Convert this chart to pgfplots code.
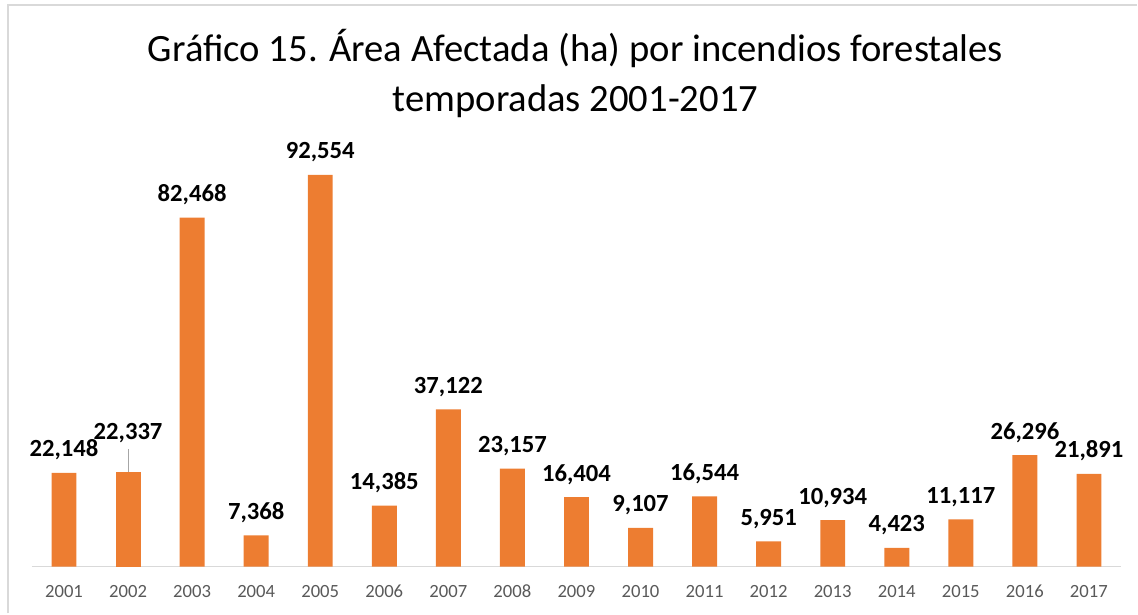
\documentclass[border=0pt]{standalone}
\usepackage{pgfplots}
\pgfplotsset{compat=1.18}
\usepackage{fontspec}
\setmainfont{Carlito}

\definecolor{barorange}{HTML}{ED7D31}
\definecolor{ticktext}{HTML}{595959}
\definecolor{framegray}{HTML}{D9D9D9}

\begin{document}
\begin{tikzpicture}
% canvas 1138 x 614 px, 1px = 0.75pt
\path (0,0) rectangle (853.5pt,460.5pt);
\draw[framegray, line width=1.5pt] (6pt,0) -- (6pt,456.75pt) -- (853.5pt,456.75pt);

\node[anchor=base, font=\fontsize{29}{33}\selectfont] at (432pt,414pt)
  {Gráfico 15. Área Afectada (ha) por incendios forestales};
\node[anchor=base, font=\fontsize{29}{33}\selectfont] at (432pt,377pt)
  {temporadas 2001-2017};

\begin{axis}[
    at={(24pt,35.25pt)}, anchor=south west,
    scale only axis,
    width=817.5pt, height=327.75pt,
    xmin=2000.5, xmax=2017.5,
    ymin=0, ymax=103180,
    ybar,
    bar width=18.75pt,
    axis x line=bottom,
    axis y line=none,
    x axis line style={draw=framegray, line width=1pt, -},
    xtick={2001,...,2017},
    major tick length=0pt,
    xticklabel style={font=\fontsize{14}{16}\selectfont, text=ticktext,
        anchor=base, yshift=-23.25pt,
        /pgf/number format/1000 sep={}},
    /pgf/number format/assume math mode=true,
    clip=false,
    nodes near coords={\pgfmathprintnumber[fixed,precision=0,1000 sep={,}]{\pgfplotspointmeta}},
    every node near coord/.append style={font=\bfseries\fontsize{18.5}{20}\selectfont,
        text=black, anchor=base, inner sep=0pt, yshift=12pt},
]
\addplot[fill=barorange, draw=none, bar shift=0pt] coordinates {
    (2001,22148) (2003,82468) (2004,7368) (2005,92554)
    (2006,14385) (2007,37122) (2008,23157) (2009,16404) (2010,9107)
    (2011,16544) (2012,5951) (2013,10934) (2014,4423) (2015,11117)
    (2016,26296) (2017,21891)
};
\addplot[fill=barorange, draw=none, bar shift=0pt,
    every node near coord/.append style={yshift=12.75pt}] coordinates {
    (2002,22337)
};
\draw[gray!70, line width=0.6pt] (axis cs:2002,22337) -- ([yshift=17.25pt]axis cs:2002,22337);
\end{axis}
\end{tikzpicture}
\end{document}
